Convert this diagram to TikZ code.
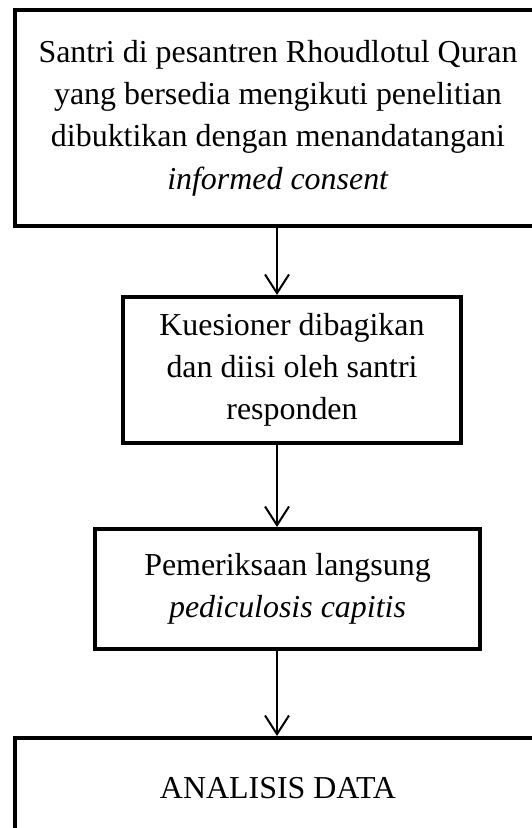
\documentclass[tikz,border=0pt]{standalone}
\usepackage{fontspec}
\setmainfont{Liberation Serif}
\usetikzlibrary{arrows.meta}

\begin{document}
\begin{tikzpicture}[x=0.3758pt,y=-0.3758pt,
  boite/.style={draw, line width=1.5pt, align=center, inner sep=2pt,
    font=\fontsize{12}{15.9}\selectfont},%style des cadres
  fleche/.style={line width=0.75pt, -{Straight Barb[length=7pt,width=9pt,line width=0.75pt]}}]%style des fleches
\useasboundingbox (0,0) rectangle (531,828);

\node[boite, minimum width=197.7pt, minimum height=81.2pt] (santri) at (278,118)
  {Santri di pesantren Rhoudlotul Quran\\ yang bersedia mengikuti penelitian\\ dibuktikan dengan menandatangani\\ \textit{informed consent}};

\node[boite, minimum width=127pt, minimum height=54.9pt] (kuesioner) at (292,370)
  {Kuesioner dibagikan\\ dan diisi oleh santri\\ responden};

\node[boite, minimum width=144.7pt, minimum height=45.1pt] (pemeriksaan) at (287.5,589)
  {Pemeriksaan langsung\\ \textit{pediculosis capitis}};

\node[boite, minimum width=197.7pt, minimum height=37.6pt] (analisis) at (278,788)
  {ANALISIS DATA};

\draw[fleche] (santri.south -| 277,0) -- (kuesioner.north -| 277,0);
\draw[fleche] (kuesioner.south -| 277,0) -- (pemeriksaan.north -| 277,0);
\draw[fleche] (pemeriksaan.south -| 277,0) -- (analisis.north -| 277,0);

\end{tikzpicture}
\end{document}
